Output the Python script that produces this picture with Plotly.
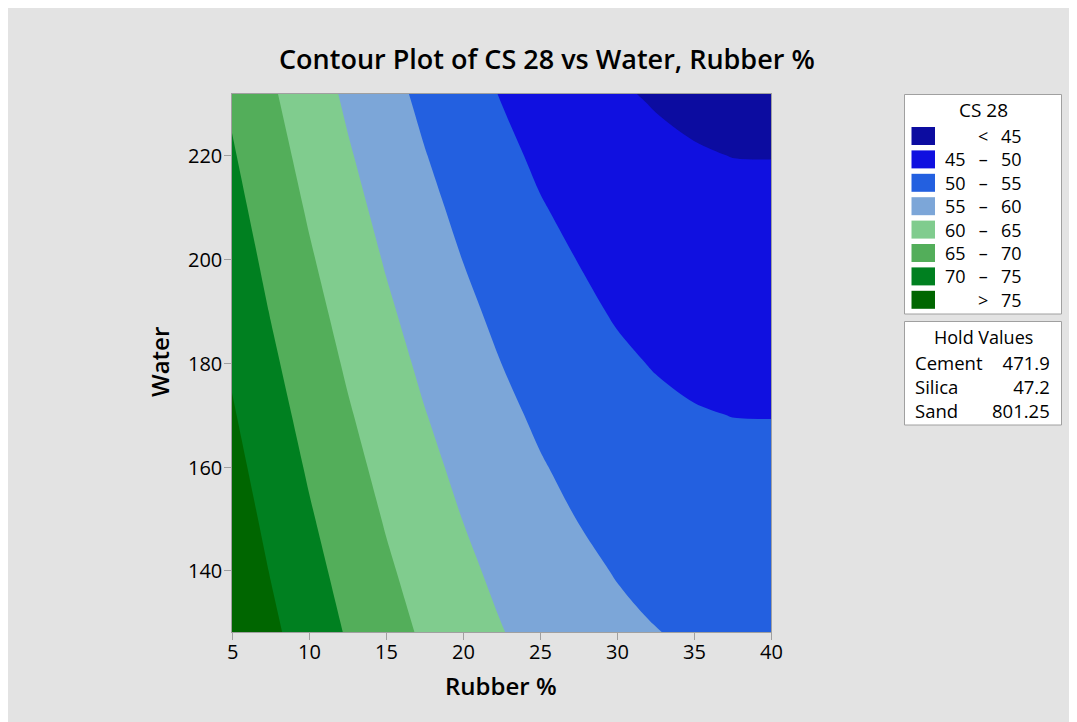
import plotly.graph_objects as go

# ---------------- data ----------------
rubber = [5, 7.5, 10, 12.5, 15, 17.5, 20, 22.5, 25, 27.5, 30, 32.5, 35, 37.5, 40]
water = [120, 130, 140, 150, 160, 170, 180, 190, 200, 210, 220, 230, 240]
# CS 28 estimated on the grid (rows = water, columns = rubber)
cs28 = [
    [80.43, 76.83, 73.50, 70.45, 67.67, 65.17, 62.94, 60.99, 59.31, 57.91, 56.78, 55.93, 55.35, 55.05, 55.02],
    [79.43, 75.83, 72.50, 69.45, 66.67, 64.17, 61.94, 59.99, 58.31, 56.91, 55.78, 54.93, 54.35, 54.05, 54.02],
    [78.43, 74.83, 71.50, 68.45, 65.67, 63.17, 60.94, 58.99, 57.31, 55.91, 54.78, 53.93, 53.35, 53.05, 53.02],
    [77.43, 73.83, 70.50, 67.45, 64.67, 62.17, 59.94, 57.99, 56.31, 54.91, 53.78, 52.93, 52.35, 52.05, 52.02],
    [76.43, 72.83, 69.50, 66.45, 63.67, 61.17, 58.94, 56.99, 55.31, 53.91, 52.73, 51.88, 51.30, 51.00, 50.97],
    [75.43, 71.83, 68.50, 65.45, 62.67, 60.17, 57.94, 55.99, 54.31, 52.86, 51.68, 50.83, 50.25, 49.95, 49.92],
    [74.43, 70.83, 67.50, 64.45, 61.67, 59.17, 56.94, 54.99, 53.31, 51.83, 50.63, 49.78, 49.20, 48.90, 48.92],
    [73.43, 69.83, 66.50, 63.45, 60.67, 58.17, 55.94, 53.99, 52.31, 50.79, 49.66, 48.81, 48.23, 47.95, 47.92],
    [72.43, 68.83, 65.50, 62.45, 59.67, 57.17, 54.94, 52.99, 51.31, 49.91, 48.73, 47.88, 47.30, 47.00, 46.97],
    [71.43, 67.83, 64.50, 61.45, 58.67, 56.17, 53.94, 51.99, 50.26, 48.91, 47.78, 46.93, 46.25, 45.95, 45.92],
    [70.43, 66.83, 63.50, 60.45, 57.67, 55.17, 52.94, 50.99, 49.28, 47.91, 46.78, 45.83, 45.25, 44.95, 44.92],
    [69.43, 65.83, 62.50, 59.45, 56.67, 54.17, 51.94, 49.99, 48.31, 46.91, 45.58, 44.83, 44.35, 44.05, 44.02],
    [68.43, 64.83, 61.50, 58.45, 55.67, 53.17, 50.94, 48.99, 47.31, 45.91, 44.58, 43.83, 43.35, 43.05, 43.02],
]

level_start, level_end, level_step = 45, 75, 5
band_colors = ["#0C0CA0", "#1010E0", "#2360E0", "#7CA6D8",
               "#80CC8E", "#53AE5A", "#008020", "#006600"]
band_left = ["", "45", "50", "55", "60", "65", "70", ""]
band_mid = ["<", "–", "–", "–", "–", "–", "–", ">"]
band_right = ["45", "50", "55", "60", "65", "70", "75", "75"]

hold_names = ["Cement", "Silica", "Sand"]
hold_values = ["471.9", "47.2", "801.25"]

x_ticks = [5, 10, 15, 20, 25, 30, 35, 40]
y_ticks = [140, 160, 180, 200, 220]

# ---------------- layout geometry ----------------
OFF = 8                      # page body margin
W, H = 1069, 714
ML, MR, MT, MB = 224, 306, 86, 90
PW, PH = W - ML - MR, H - MT - MB
FONT = "Open Sans"
GRAY_BG = "#E3E3E3"
AX = "#A0A0A0"
BLACK = "#000000"
NBSP = "\u00a0"


def fx(px):
    """page pixel x -> paper fraction"""
    return (px - OFF - ML) / PW


def fy(py):
    """page pixel y -> paper fraction"""
    return (H - MB - (py - OFF)) / PH


n_bands = len(band_colors)
colorscale = [[i / (n_bands - 1), c] for i, c in enumerate(band_colors)]

fig = go.Figure()
fig.add_trace(go.Contour(
    x=rubber, y=water, z=cs28,
    autocontour=False,
    contours=dict(start=level_start, end=level_end, size=level_step,
                  coloring="fill", showlines=False),
    colorscale=colorscale,
    showscale=False,
    line=dict(width=0, smoothing=1.0),
    hoverinfo="x+y+z",
))

shapes = []
annotations = []


def txt(text, x, y, xanchor="center", size=19, weight=500, align="center", **kw):
    d = dict(text=text, xref="paper", yref="paper", x=x, y=y,
             xanchor=xanchor, yanchor="middle", showarrow=False, align=align,
             borderpad=0, borderwidth=0,
             font=dict(family=FONT, size=size, color=BLACK, weight=weight))
    d.update(kw)
    annotations.append(d)


# title and axis titles
txt("Contour Plot of CS 28 vs Water, Rubber %", fx(547), fy(58), size=27, weight=600)
txt("Rubber %", fx(501), fy(685), size=24, weight=600)
txt("Water", fx(159), fy(362), size=24, weight=600, textangle=-90)

# tick labels (placed on the data axes)
for t in x_ticks:
    annotations.append(dict(text=str(t), xref="x", yref="paper", x=t, y=fy(651),
                            xanchor="center", yanchor="middle", showarrow=False,
                            borderpad=0, borderwidth=0,
                            font=dict(family=FONT, size=20, color=BLACK, weight=500)))
for t in y_ticks:
    annotations.append(dict(text=str(t), xref="paper", yref="y", x=fx(222), y=t,
                            xanchor="right", yanchor="middle", showarrow=False,
                            borderpad=0, borderwidth=0,
                            font=dict(family=FONT, size=20, color=BLACK, weight=500)))

# legend box
shapes.append(dict(type="rect", xref="paper", yref="paper",
                   x0=fx(904.5), x1=fx(1061.5), y0=fy(314), y1=fy(94.5),
                   fillcolor="white", line=dict(color=AX, width=1)))
txt("CS 28", fx(983), fy(110))
LEG_FS = 18
row0, pitch = 136.0, 1.3 * LEG_FS
for k in range(n_bands):
    cy = row0 + pitch * k
    shapes.append(dict(type="rect", xref="paper", yref="paper",
                       x0=fx(911.5), x1=fx(935), y0=fy(cy + 9), y1=fy(cy - 9),
                       fillcolor=band_colors[k], line=dict(width=0)))
mid_y = fy(row0 + pitch * (n_bands - 1) / 2)
txt("<br>".join(s if s else NBSP for s in band_left), fx(966), mid_y,
    xanchor="right", align="right", size=LEG_FS)
txt("<br>".join(band_mid), fx(983), mid_y, xanchor="center", align="center", size=LEG_FS)
txt("<br>".join(band_right), fx(1022), mid_y, xanchor="right", align="right", size=LEG_FS)

# hold values box
shapes.append(dict(type="rect", xref="paper", yref="paper",
                   x0=fx(904.5), x1=fx(1061.5), y0=fy(425), y1=fy(321.5),
                   fillcolor="white", line=dict(color=AX, width=1)))
txt("Hold Values", fx(983), fy(337), size=18)
HV_FS = 18.5
hv_row0, hv_pitch = 362.5, 1.3 * HV_FS
hv_mid = fy(hv_row0 + hv_pitch * (len(hold_names) - 1) / 2)
txt("<br>".join(hold_names), fx(915), hv_mid, xanchor="left", align="left", size=HV_FS)
txt("<br>".join(hold_values), fx(1050), hv_mid, xanchor="right", align="right", size=HV_FS)

axis_common = dict(showgrid=False, zeroline=False, showline=True, linecolor=AX,
                   linewidth=1, mirror=True, ticks="outside", ticklen=7,
                   tickcolor=AX, tickwidth=1, showticklabels=False)

fig.update_layout(
    width=W, height=H,
    margin=dict(l=ML, r=MR, t=MT, b=MB, pad=0),
    paper_bgcolor=GRAY_BG,
    plot_bgcolor="rgba(0,0,0,0)",
    showlegend=False,
    shapes=shapes,
    annotations=annotations,
    xaxis=dict(range=[5, 40], tickvals=x_ticks, **axis_common),
    yaxis=dict(range=[128.25, 231.8], tickvals=y_ticks, **axis_common),
)

fig.write_html("out.html")
